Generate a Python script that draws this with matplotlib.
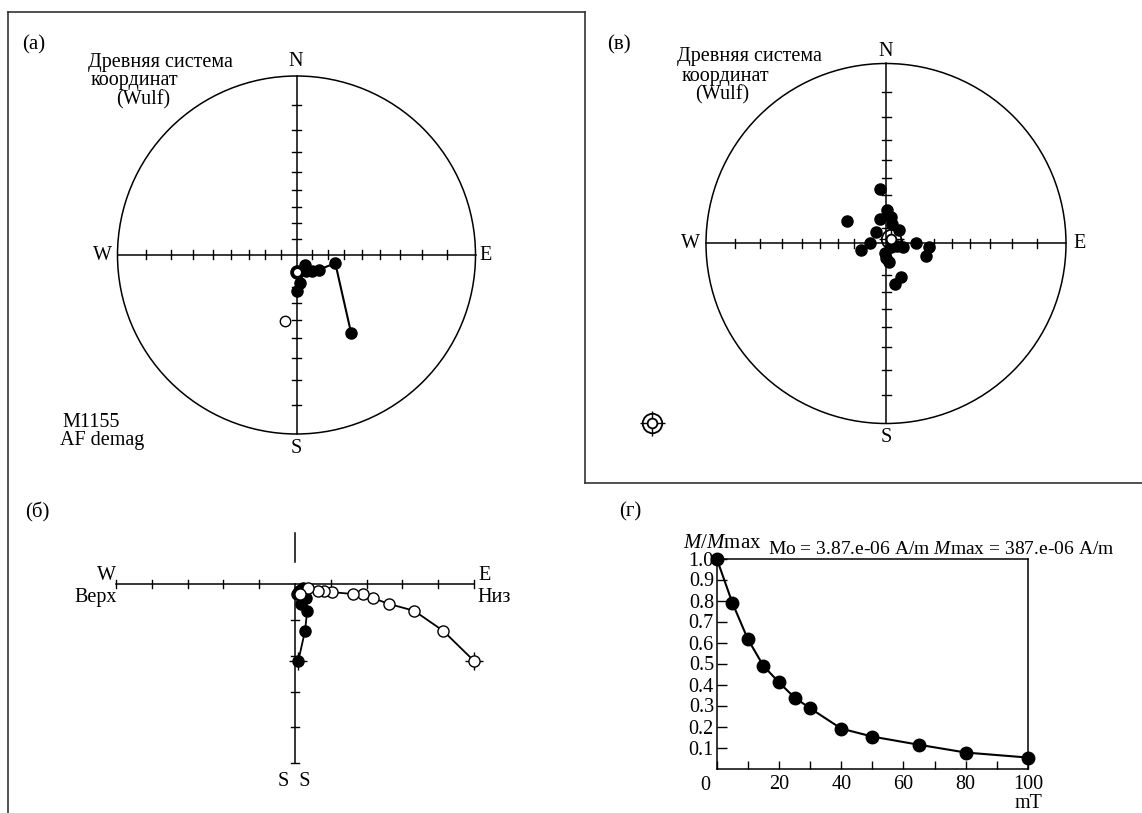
import numpy as np
import matplotlib.pyplot as plt
from matplotlib.patches import Circle
from matplotlib.lines import Line2D
from matplotlib.ticker import MultipleLocator

plt.rcParams['font.family'] = ['Liberation Serif', 'DejaVu Serif']
plt.rcParams['mathtext.fontset'] = 'custom'
plt.rcParams['mathtext.rm'] = 'Liberation Serif'
plt.rcParams['mathtext.it'] = 'Liberation Serif:italic'

W, H = 1142, 813

# (а) M1155, AF demagnetisation path (declination, inclination)
a_dec = [145, 102, 123, 135, 149, 140, 172, 179]
a_inc = [34, 65, 73, 76, 78, 82, 72, 67]
a_first = (179, 79)       # filled + open symbol
a_upper = (190, -49)      # open, upper hemisphere

# (в) sample directions and mean
v_dec = [354, 300, 2, 10, 346, 16, 44, 319, 273, 256, 123, 105, 102, 89, 94, 108, 179, 171, 156, 167, 186]
v_inc = [56, 62, 69, 73, 74, 77, 78, 80, 80, 74, 86, 83, 79, 71, 63, 64, 81, 78, 67, 64, 84]
v_mean = (50, 86)

# (б) Zijderveld diagram (tick units)
z_s = [-2.15, -1.30, -0.74, -0.55, -0.39, -0.27, -0.27, -0.22, -0.18, -0.18, -0.10, -0.28]
z_e = [0.09, 0.28, 0.34, 0.16, 0.31, 0.24, 0.20, 0.15, 0.12, 0.10, 0.23, 0.06]
z_down = [5.01, 4.14, 3.33, 2.63, 2.19, 1.89, 1.61, 1.03, 0.82, 0.65, 0.37, 0.14]

# (г) normalised intensity vs AF field
af_field = [0, 5, 10, 15, 20, 25, 30, 40, 50, 65, 80, 100]
m_norm = [1.0, 0.79, 0.616, 0.489, 0.41, 0.338, 0.287, 0.19, 0.152, 0.113, 0.076, 0.052]

fig = plt.figure(figsize=(W / 100, H / 100), dpi=100)


def rect(x0, y0, x1, y1):
    return [x0 / W, 1 - y1 / H, (x1 - x0) / W, (y1 - y0) / H]


def ftext(x, y, s, size=14.5, ha='center', **kw):
    fig.text(x / W, 1 - y / H, s, size=size, ha=ha, va='center', **kw)


def fline(xs, ys):
    fig.add_artist(Line2D([x / W for x in xs], [1 - y / H for y in ys],
                          transform=fig.transFigure, color='#333333', lw=1.2))


def wulff(dec, inc):
    d = np.radians(dec)
    r = np.tan((np.pi / 2 - np.radians(np.abs(inc))) / 2)
    return r * np.sin(d), r * np.cos(d)


def net(cx, cy, R, ext=1.4):
    ax = fig.add_axes(rect(cx - ext * R, cy - ext * R, cx + ext * R, cy + ext * R))
    ax.set_xlim(-ext, ext)
    ax.set_ylim(-ext, ext)
    ax.axis('off')
    ax.add_patch(Circle((0, 0), 1, fill=False, lw=1.1, color='k'))
    ax.plot([-1, 1], [0, 0], 'k', lw=1.1)
    ax.plot([0, 0], [-1, 1], 'k', lw=1.1)
    tl = 4.5 / R
    for inc in range(10, 90, 10):
        r = np.tan(np.radians(90 - inc) / 2)
        for s in (-1, 1):
            ax.plot([s * r, s * r], [-tl, tl], 'k', lw=1)
            ax.plot([-tl, tl], [s * r, s * r], 'k', lw=1)
    return ax


def target(ax, x, y):
    ax.plot(x, y, marker='+', ms=18, color='k', mew=1, clip_on=False, zorder=5)
    ax.plot(x, y, 'o', ms=14, mfc='none', mec='k', mew=1.3, clip_on=False, zorder=6)
    ax.plot(x, y, 'o', ms=7, mfc='white', mec='k', mew=1.3, clip_on=False, zorder=6)


# ---- (а)
ax1 = net(296.5, 255, 179)
x, y = wulff(np.array(a_dec), np.array(a_inc))
ax1.plot(x, y, 'k-', lw=1.5, zorder=3)
ax1.plot(x, y, 'o', color='k', ms=8, zorder=4)
fx, fy = wulff(*a_first)
ax1.plot(fx, fy, 'o', color='k', ms=9.5, zorder=4)
ax1.plot(fx, fy, 'o', mfc='white', mec='k', ms=6, mew=1, zorder=5)
ux, uy = wulff(*a_upper)
ax1.plot(ux, uy, 'o', mfc='white', mec='k', ms=7.5, mew=1, zorder=4)

ftext(22, 45, '(а)', size=15, ha='left')
ftext(88, 62, 'Древняя система', ha='left')
ftext(91, 81, 'координат', ha='left')
ftext(116, 100, '(Wulf)', ha='left')
ftext(296, 62, 'N')
ftext(296, 448, 'S')
ftext(102, 255, 'W')
ftext(486, 255, 'E')
ftext(62, 422, 'M1155', ha='left')
ftext(60, 440, 'AF demag', ha='left')

# ---- (в)
ax2 = net(886, 243.5, 180)
x, y = wulff(np.array(v_dec), np.array(v_inc))
ax2.plot(x, y, 'o', color='k', ms=8, zorder=4)
mx, my = wulff(*v_mean)
target(ax2, mx, my)
target(ax2, -1.30, -1.0)

ftext(607, 45, '(в)', size=15, ha='left')
ftext(677, 57, 'Древняя система', ha='left')
ftext(682, 76, 'координат', ha='left')
ftext(695, 95, '(Wulf)', ha='left')
ftext(886, 51, 'N')
ftext(886, 437, 'S')
ftext(690, 243, 'W')
ftext(1080, 243, 'E')

# ---- (б)
u = 35.8
ox, oy = 295, 584.3
ax3 = fig.add_axes(rect(ox - 5.5 * u, oy - 1.8 * u, ox + 5.5 * u, oy + 5.7 * u))
ax3.set_xlim(-5.5, 5.5)
ax3.set_ylim(-5.7, 1.8)
ax3.axis('off')
ax3.plot([-5, 5], [0, 0], 'k', lw=1.1)
ax3.plot([0, 0], [0, -5], 'k', lw=1.1)
ax3.plot([0, 0], [0.63, 1.43], 'k', lw=1.1)
tl = 0.11
for k in range(1, 6):
    for s in (-1, 1):
        ax3.plot([s * k, s * k], [-tl, tl], 'k', lw=1)
    ax3.plot([-tl, tl], [-k, -k], 'k', lw=1)
ax3.plot(z_down, z_s, 'k-', lw=1.3, zorder=3)
ax3.plot(z_e, z_s, 'k-', lw=1.3, zorder=3)
ax3.plot(z_down[0], z_s[0], marker='+', ms=13, color='k', mew=1, zorder=3)
ax3.plot(z_e[0], z_s[0], marker='+', ms=13, color='k', mew=1, zorder=3)
ax3.plot(z_e, z_s, 'o', color='k', ms=8, zorder=4)
ax3.plot(z_down, z_s, 'o', mfc='white', mec='k', mew=1, ms=8, zorder=5)

ftext(37, 512, '(б)', size=15)
ftext(106, 576, 'W')
ftext(117, 597, 'Верх', ha='right')
ftext(485, 576, 'E')
ftext(477, 597, 'Низ', ha='left')
ftext(294, 781, 'S  S')

# ---- (г)
ax4 = fig.add_axes(rect(716.7, 558.5, 1028, 768.5))
ax4.plot(af_field, m_norm, 'k-', lw=1.5, clip_on=False)
ax4.plot(af_field, m_norm, 'o', color='k', ms=9, clip_on=False, zorder=5)
ax4.set_xlim(0, 100)
ax4.set_ylim(0, 1.0)
ax4.set_xticks([20, 40, 60, 80, 100])
ax4.xaxis.set_minor_locator(MultipleLocator(10))
ax4.set_yticks(np.arange(0.1, 1.01, 0.1))
ax4.set_yticklabels(['%.1f' % v for v in np.arange(0.1, 1.01, 0.1)])
ax4.tick_params(which='both', direction='in', width=1, labelsize=14.5)
ax4.tick_params(axis='x', which='both', length=6, pad=5)
ax4.tick_params(axis='y', length=7, pad=2)
for sp in ax4.spines.values():
    sp.set_linewidth(1.1)
ax4.annotate('0', xy=(0, 0), xytext=(-8.5, -12), textcoords='offset points',
             ha='center', va='center', size=14.5)

ftext(630, 512, '(г)', size=15)
ftext(683, 543, r'$M/M$max', size=15, ha='left')
ftext(768, 549, r'Mo = 3.87.e-06 A/m $M$max = 387.e-06 A/m', size=14, ha='left')
ftext(1028, 803, 'mT')

# frame lines
fline([8.3, 8.3], [11.7, 813])
fline([8.3, 585], [11.7, 11.7])
fline([585, 585], [11.7, 483.3])
fline([585, 1142], [483.3, 483.3])

fig.savefig('out.png', dpi=100)
